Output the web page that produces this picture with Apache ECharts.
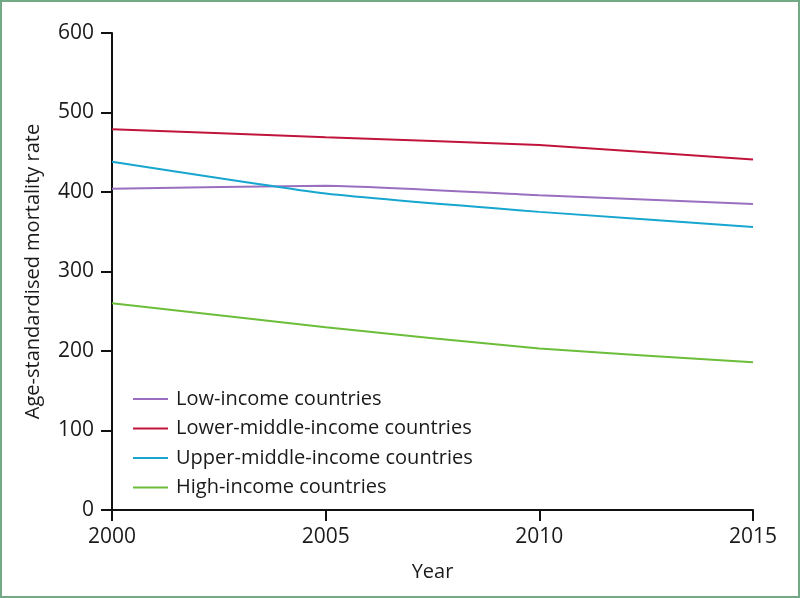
<!DOCTYPE html>
<html><head><meta charset="utf-8">
<script src="https://cdn.jsdelivr.net/npm/echarts@6/dist/echarts.min.js"></script>
<style>
html,body{margin:0;padding:0;background:#fff;}
#frame{position:absolute;left:0;top:0;width:800px;height:598px;box-sizing:border-box;border:2px solid #74a985;}
#c{position:absolute;left:0;top:0;width:800px;height:598px;}
</style></head>
<body><div id="c"></div><div id="frame"></div>
<script>
const years = [2000, 2005, 2010, 2015];
const seriesNames = ['Low-income countries','Lower-middle-income countries','Upper-middle-income countries','High-income countries'];
const lowIncome = [404, 408, 396, 385];
const lowerMiddle = [479, 469, 459, 441];
const upperMiddle = [438, 398, 375, 356];
const highIncome = [260, 230, 203, 186];
const colors = ['#9b6fc0','#c0143c','#16a6cf','#6cbd3a'];
const yTicks = [0,100,200,300,400,500,600];

const allData = [lowIncome, lowerMiddle, upperMiddle, highIncome];
const font = 'Open Sans';
const chart = echarts.init(document.getElementById('c'), null, {renderer:'canvas'});
chart.setOption({
  animation:false,
  grid:{left:112,right:47,top:33,bottom:88,containLabel:false},
  legend:{
    orient:'vertical', left:133, top:389, padding:0, itemWidth:35, itemHeight:2, itemGap:9.5,
    icon:'rect',
    textStyle:{fontFamily:font,fontSize:20,color:'#1a1a1a',padding:[0,0,0,3]},
    data:seriesNames
  },
  xAxis:{
    type:'value', min:2000, max:2015, interval:5,
    name:'Year', nameLocation:'middle', nameGap:52,
    nameTextStyle:{fontFamily:font,fontSize:20,color:'#1a1a1a'},
    axisLine:{lineStyle:{color:'#111',width:2}},
    axisTick:{length:11,lineStyle:{color:'#111',width:2}},
    axisLabel:{fontFamily:font,fontSize:21,color:'#1a1a1a',margin:17,formatter:v=>String(v)},
    splitLine:{show:false}
  },
  yAxis:{
    type:'value', min:yTicks[0], max:yTicks[yTicks.length-1], interval:100,
    name:'Age-standardised mortality rate', nameLocation:'middle', nameGap:69,
    nameTextStyle:{fontFamily:font,fontSize:20,color:'#1a1a1a'},
    axisLine:{show:true,lineStyle:{color:'#111',width:2}},
    axisTick:{show:true,length:11,lineStyle:{color:'#111',width:2}},
    axisLabel:{fontFamily:font,fontSize:21,color:'#1a1a1a',margin:18},
    splitLine:{show:false}
  },
  series: seriesNames.map((n,i)=>({
    name:n, type:'line', smooth:0.15, showSymbol:false,
    lineStyle:{color:colors[i],width:2}, itemStyle:{color:colors[i]},
    data: years.map((y,j)=>[y, allData[i][j]])
  }))
});
</script></body></html>
